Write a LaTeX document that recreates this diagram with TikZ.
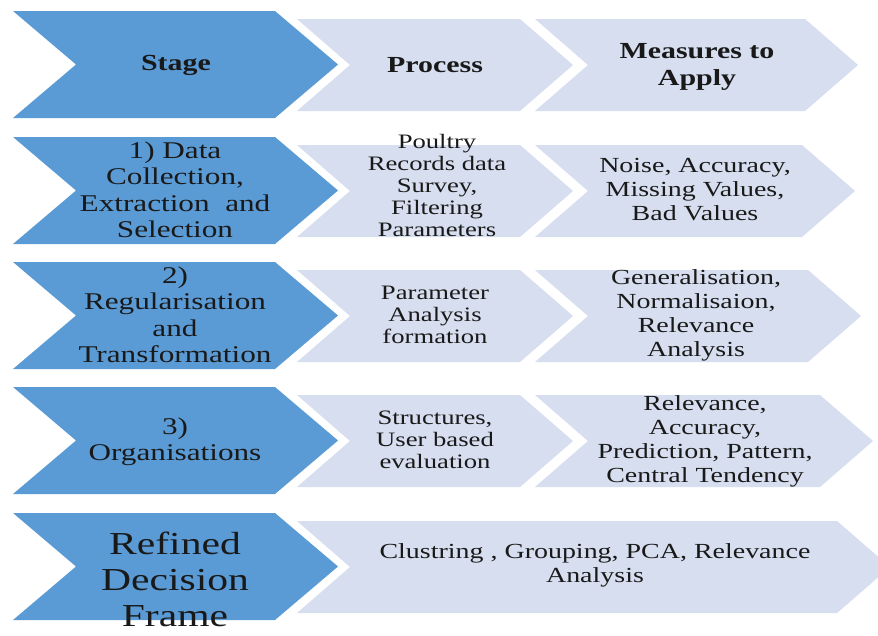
\documentclass[tikz,border=0pt]{standalone}
\usepackage{fontspec}
\setmainfont{Liberation Serif}[FakeStretch=1.3]
\definecolor{stageblue}{RGB}{91,155,213}
\definecolor{paleblue}{RGB}{214,222,239}
\newcommand{\chevron}[6]{\fill[#6] ({#1},{#2}) -- ({#3},{#2}) -- ({#3+#5},{(#2+#4)/2}) -- ({#3},{#4}) -- ({#1},{#4}) -- ({#1+#5},{(#2+#4)/2}) -- cycle;}
\tikzset{
    cell/.style={align=center, inner sep=0pt, text=black!90},
    hdr/.style={cell, font=\bfseries\fontsize{23}{27}\selectfont},
    stg/.style={cell, font=\fontsize{24}{26.5}\selectfont},
    prc/.style={cell, font=\fontsize{20.5}{22}\selectfont},
    msr/.style={cell, font=\fontsize{21.5}{24}\selectfont}
}

\begin{document}
\begin{tikzpicture}[x=1pt, y=-1pt]
                \clip (0,0) rectangle (878,635);
                \fill[white] (0,0) rectangle (878,635);
                \foreach \t/\e in {11/805, 137/802, 262/808, 387/820}{
                    \chevron{13}{\t}{275}{\t+107}{63}{stageblue}
                    \chevron{297}{\t+8}{520}{\t+100}{53}{paleblue}
                    \chevron{535}{\t+8}{\e}{\t+100}{53}{paleblue}
                }
                \chevron{13}{513}{275}{620}{63}{stageblue}
                \chevron{297}{521}{837}{613}{53}{paleblue}

                \node[hdr] (stage) at (176,65) {Stage};
                \node[hdr] (process) at (435,65) {Process};
                \node[hdr] (measures) at (697,67) {Measures to\\Apply};

                \node[stg] (s1) at (175,190) {1) Data\\Collection,\\Extraction~~and\\Selection};
                \node[prc] (p1) at (437,185) {Poultry\\Records data\\Survey,\\Filtering\\Parameters};
                \node[msr] (m1) at (695,190) {Noise, Accuracy,\\Missing Values,\\Bad Values};

                \node[stg] (s2) at (175,315) {2)\\Regularisation\\and\\Transformation};
                \node[prc] (p2) at (435,315) {Parameter\\Analysis\\formation};
                \node[msr] (m2) at (696,315) {Generalisation,\\Normalisaion,\\Relevance\\Analysis};

                \node[stg] (s3) at (175,442) {3)\\Organisations};
                \node[prc] (p3) at (435,440) {Structures,\\User based\\evaluation};
                \node[msr] (m3) at (705,441) {Relevance,\\Accuracy,\\Prediction, Pattern,\\Central Tendency};

                \node[stg, font=\fontsize{32}{36}\selectfont] (s4) at (175,579) {Refined\\Decision\\Frame};
                \node[msr] (p4) at (595,565) {Clustring , Grouping, PCA, Relevance\\Analysis};
            \end{tikzpicture}
\end{document}
